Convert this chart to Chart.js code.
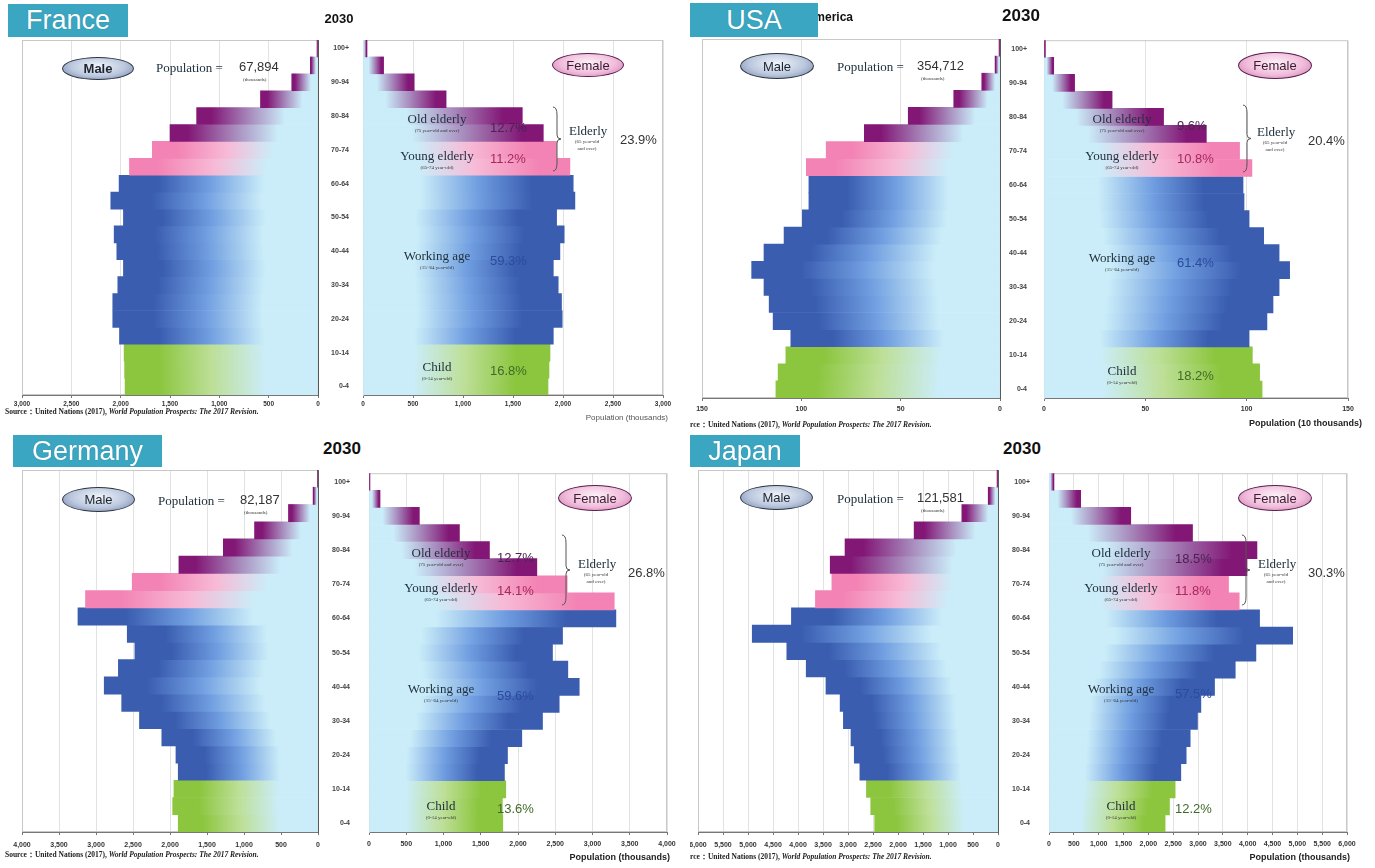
<!DOCTYPE html>
<html>
<head>
<meta charset="utf-8">
<script src="https://cdn.jsdelivr.net/npm/chart.js@4.4.0/dist/chart.umd.min.js"></script>
<style>
body { margin: 0; background: #fff; width: 1375px; height: 868px; position: relative; overflow: hidden; font-family: "Liberation Sans", Arial, sans-serif; }
.cv { position: absolute; }
.tx { position: absolute; white-space: nowrap; line-height: 1; }
.serif { font-family: "Liberation Serif", "Times New Roman", serif; font-size: 13px; color: #20323f; }
.tiny { font-family: "Liberation Serif", serif; font-size: 5px; color: #333; }
.pct { font-size: 13px; }
.title { position: absolute; background: #3aa6c1; color: #fff; font-size: 27px; display: flex; align-items: center; justify-content: center; text-shadow: 0 0 1px #2a7f95; z-index: 5; }
.pill { position: absolute; border-radius: 50%; display: flex; align-items: center; justify-content: center; font-size: 13px; }
.male { border: 1.5px solid #2d3440; background: radial-gradient(ellipse at 50% 40%, #f3f6fb 0%, #bac7dd 55%, #6b7ca2 100%); color: #1d2430; }
.female { border: 1.5px solid #5a1d4e; background: radial-gradient(ellipse at 50% 40%, #fdf1f8 0%, #f1bddb 55%, #c877ad 100%); color: #3a1b33; }
.src { font-family: "Liberation Serif", serif; font-size: 7.5px; font-weight: bold; color: #222; }
.clip { position: absolute; overflow: hidden; height: 12px; width: 300px; }
</style>
</head>
<body>
<svg id="braces" width="1375" height="868" style="position:absolute;left:0;top:0;z-index:4;pointer-events:none"></svg>
<script>
// age groups, youngest first
const ageGroups = ['0-4', '5-9', '10-14', '15-19', '20-24', '25-29', '30-34', '35-39', '40-44', '45-49',
  '50-54', '55-59', '60-64', '65-69', '70-74', '75-79', '80-84', '85-89', '90-94', '95-99', '100+'];

// France, thousands
const franceMale = [1955, 1960, 1965, 2012, 2080, 2080, 2029, 1972, 2039, 2066, 1972, 2100, 2016, 1911, 1679, 1500, 1230, 583, 266, 78, 10];
const franceFemale = [1850, 1860, 1870, 1903, 1992, 1985, 1952, 1903, 1969, 2012, 1936, 2119, 2102, 2069, 1936, 1803, 1593, 831, 512, 206, 40];
// USA, 10 thousands
const usaMale = [112.8, 111.7, 107.8, 105.3, 114.2, 116.2, 118.8, 125.0, 118.8, 108.7, 99.5, 96.2, 96.2, 97.5, 87.5, 68.3, 46.2, 23.3, 9.2, 2.5, 0.5];
const usaFemale = [107.6, 106.4, 102.8, 101.2, 110.0, 113.0, 116.0, 121.2, 116.0, 108.4, 101.2, 98.7, 98.2, 102.6, 96.5, 80.1, 59.0, 33.6, 15.1, 4.8, 0.7];
// Germany, thousands
const germanyMale = [1889, 1964, 1947, 1889, 1920, 2111, 2413, 2653, 2889, 2698, 2475, 2578, 3244, 3142, 2511, 1880, 1280, 858, 400, 67, 5];
const germanyFemale = [1796, 1790, 1836, 1818, 1859, 2051, 2329, 2553, 2822, 2669, 2463, 2598, 3314, 3292, 2660, 2253, 1617, 1214, 676, 148, 13];
// Japan, thousands
const japanMale = [2467, 2546, 2632, 2763, 2875, 2941, 3093, 3158, 3441, 3836, 4224, 4915, 4132, 3652, 3323, 3356, 3060, 1678, 724, 197, 20];
const japanFemale = [2338, 2426, 2540, 2654, 2762, 2843, 2990, 3058, 3333, 3750, 4166, 4906, 4240, 3830, 3615, 3985, 4187, 2890, 1646, 638, 100];

// shares: old elderly, young elderly, working age, child, elderly
const francePct = ['12.7%', '11.2%', '59.3%', '16.8%', '23.9%'];
const usaPct = ['9.6%', '10.8%', '61.4%', '18.2%', '20.4%'];
const germanyPct = ['12.7%', '14.1%', '59.6%', '13.6%', '26.8%'];
const japanPct = ['18.5%', '11.8%', '57.5%', '12.2%', '30.3%'];
const totals = ['67,894', '354,712', '82,187', '121,581'];
const countries = ['France', 'USA', 'Germany', 'Japan'];

function groupOf(i) { return i < 3 ? 'child' : i < 13 ? 'work' : i < 15 ? 'young' : 'old'; }
const palette = {
  child: ['#8cc63f', '#bddf97', 0.82],
  work: ['#3a5db0', '#6f9de0', 0.8],
  young: ['#f383b4', '#f7bad6', 0.85],
  old: ['#821776', '#a98fbf', 0.88]
};
const pale = '#cbedf9';

function barFill(c) {
  const chart = c.chart;
  const cols = palette[groupOf(c.dataIndex)];
  if (!chart.chartArea || c.raw == null) return cols[0];
  const sx = chart.scales.x;
  const p0 = sx.getPixelForValue(0), p1 = sx.getPixelForValue(c.raw);
  if (Math.abs(p1 - p0) < 1.5) return cols[0];
  const g = chart.ctx.createLinearGradient(p0, 0, p1, 0);
  g.addColorStop(0, pale);
  g.addColorStop(0.27, pale);
  g.addColorStop(0.55, cols[1]);
  g.addColorStop(cols[2], cols[0]);
  g.addColorStop(1, cols[0]);
  return g;
}

const frame = {
  id: 'frame',
  beforeDatasetsDraw(chart) {
    const { ctx, chartArea: a } = chart;
    ctx.save();
    ctx.strokeStyle = '#c8c8c8';
    ctx.lineWidth = 1;
    ctx.strokeRect(a.left + 0.5, a.top + 0.5, a.width - 1, a.height - 1);
    ctx.restore();
  }
};

function pyramid(p) {
  const male = p.side === 'male';
  const yW = male ? 0 : 40;
  const padL = male ? 16 : 2, padR = male ? 4 : 18, padT = 12, axisH = 26;
  const w = (p.right - p.left) + yW + padL + padR;
  const h = (p.bottom - p.top) + padT + axisH;
  const cv = document.createElement('canvas');
  cv.className = 'cv';
  cv.width = w; cv.height = h;
  cv.style.width = w + 'px'; cv.style.height = h + 'px';
  cv.style.left = (p.left - yW - padL) + 'px';
  cv.style.top = (p.top - padT) + 'px';
  if (p.clipLeft) cv.style.clipPath = 'inset(0 0 0 ' + p.clipLeft + 'px)';
  document.body.appendChild(cv);
  const tickFont = { family: 'Liberation Sans', size: p.tickSize, weight: 'bold' };
  new Chart(cv.getContext('2d'), {
    type: 'bar',
    data: {
      labels: ageGroups,
      datasets: [{ data: p.values, backgroundColor: barFill, borderWidth: 0, barPercentage: 1, categoryPercentage: 1 }]
    },
    options: {
      indexAxis: 'y',
      responsive: false,
      animation: false,
      layout: { padding: { left: padL, right: padR, top: padT, bottom: 0 } },
      plugins: { legend: { display: false }, tooltip: { enabled: false } },
      scales: {
        x: {
          reverse: male,
          min: 0,
          max: p.max,
          ticks: {
            stepSize: p.step, autoSkip: false, maxRotation: 0, font: tickFont, color: '#333', padding: p.tickGap,
            callback: v => v.toLocaleString('en-US')
          },
          grid: { color: '#e2e2e2', tickLength: 3, tickColor: '#777' },
          border: { color: '#777' },
          afterFit: s => { s.height = axisH; }
        },
        y: {
          position: male ? 'right' : 'left',
          reverse: true,
          grid: { display: false },
          border: { color: male ? '#555' : '#c8c8c8' },
          ticks: {
            display: !male, font: { family: 'Liberation Sans', size: 7, weight: 'bold' }, color: '#444', padding: p.labelGap,
            callback: (v, i) => (i % 2 === 0 ? ageGroups[i] : '')
          },
          afterFit: s => { s.width = yW; }
        }
      }
    },
    plugins: [frame]
  });
}

// France
pyramid({ side: 'male', values: franceMale, left: 22, right: 318, top: 40, bottom: 395, max: 3000, step: 500, tickSize: 6.5, tickGap: 2 });
pyramid({ side: 'female', values: franceFemale, left: 363, right: 663, top: 40, bottom: 395, max: 3000, step: 500, tickSize: 6.5, tickGap: 2, labelGap: 6 });
// USA
pyramid({ side: 'male', values: usaMale, left: 702, right: 1002, top: 39, bottom: 398, max: 150, step: 50, tickSize: 7, tickGap: 4 });
pyramid({ side: 'female', values: usaFemale, left: 1044, right: 1348, top: 39, bottom: 398, max: 150, step: 50, tickSize: 7, tickGap: 4, labelGap: 9 });
// Germany
pyramid({ side: 'male', values: germanyMale, left: 22, right: 322, top: 470, bottom: 832, max: 4000, step: 500, tickSize: 7, tickGap: 6 });
pyramid({ side: 'female', values: germanyFemale, left: 369, right: 667, top: 470, bottom: 832, max: 4000, step: 500, tickSize: 7, tickGap: 5, labelGap: 11 });
// Japan
pyramid({ side: 'male', values: japanMale, left: 698, right: 1002, top: 470, bottom: 832, max: 6000, step: 500, tickSize: 7, tickGap: 6, clipLeft: 8 });
pyramid({ side: 'female', values: japanFemale, left: 1049, right: 1347, top: 470, bottom: 832, max: 6000, step: 500, tickSize: 7, tickGap: 5, labelGap: 11 });

// ---- text ----
function put(x, y, html, cls, anchor, css) {
  const d = document.createElement('div');
  d.className = 'tx ' + (cls || '');
  d.innerHTML = html;
  if (css) d.style.cssText = css;
  d.style.left = x + 'px';
  d.style.top = y + 'px';
  const tx = anchor === 'c' ? '-50%' : anchor === 'r' ? '-100%' : '0';
  d.style.transform = 'translate(' + tx + ',-50%)';
  document.body.appendChild(d);
  return d;
}
function box(cls, x, y, w, h, text, extra) {
  const d = document.createElement('div');
  d.className = cls;
  d.style.left = x + 'px'; d.style.top = y + 'px';
  d.style.width = w + 'px'; d.style.height = h + 'px';
  if (extra) Object.assign(d.style, extra);
  d.textContent = text;
  document.body.appendChild(d);
  return d;
}

const pctColors = ['#4a2450', '#a8285f', '#2c4b9c', '#3f6b28', '#333'];
const srcHtml = 'Source：United Nations (2017), <i>World Population Prospects: The 2017 Revision.</i>';

function quadrant(q) {
  box('title', q.title[0], q.title[1], q.title[2], q.title[3], countries[q.i]);
  put(q.year[0], q.year[1], '2030', '', 'c', 'font-weight:bold;font-size:' + q.year[2] + 'px;color:#111');
  box('pill male', q.malePill[0], q.malePill[1], q.malePill[2], q.malePill[3], 'Male', q.i === 0 ? { fontWeight: 'bold' } : null);
  box('pill female', q.femPill[0], q.femPill[1], q.femPill[2], q.femPill[3], 'Female');
  put(q.pop[0], q.pop[1], 'Population =', 'serif');
  put(q.pop[2], q.pop[1] - 1, totals[q.i], 'pct', '', 'color:#333');
  put(q.pop[2] + 4, q.pop[1] + 12, '(thousands)', 'tiny');
  // group labels on female side
  const L = q.lab;   // [x for serif labels center, x for pct]
  const rows = [
    ['Old elderly', '(75 year-old and over)', q.rows[0]],
    ['Young elderly', '(65-74 year-old)', q.rows[1]],
    ['Working age', '(15~64 year-old)', q.rows[2]],
    ['Child', '(0-14 year-old)', q.rows[3]]
  ];
  rows.forEach((r, k) => {
    put(L[0], r[2], r[0], 'serif', 'c');
    put(L[0], r[2] + 12, r[1], 'tiny', 'c');
    put(L[1], r[2] + q.pctShift[k], q.pct[k], 'pct', '', 'color:' + pctColors[k]);
  });
  // elderly brace
  const b = q.brace; // x, y0, y1
  const ym = (b[1] + b[2]) / 2, w = 4;
  const d = `M${b[0]} ${b[1]} Q${b[0] + w} ${b[1]} ${b[0] + w} ${b[1] + 8} L${b[0] + w} ${ym - 4} Q${b[0] + w} ${ym} ${b[0] + 2 * w} ${ym} ` +
    `Q${b[0] + w} ${ym} ${b[0] + w} ${ym + 4} L${b[0] + w} ${b[2] - 8} Q${b[0] + w} ${b[2]} ${b[0]} ${b[2]}`;
  document.getElementById('braces').insertAdjacentHTML('beforeend',
    `<path d="${d}" fill="none" stroke="#555" stroke-width="1"/>`);
  put(q.eld[0], q.eld[1], 'Elderly', 'serif');
  put(q.eld[0] + 18, q.eld[1] + 11, '(65 year-old', 'tiny', 'c');
  put(q.eld[0] + 18, q.eld[1] + 18, 'and over)', 'tiny', 'c');
  put(q.eld[2], q.eld[1] + 9, q.pct[4], 'pct', '', 'color:#333');
  // axis title and source
  put(q.axis[0], q.axis[1], q.axis[2], '', 'r', q.axis[3]);
  if (q.src[2]) {
    const c = document.createElement('div');
    c.className = 'clip';
    c.style.left = q.src[0] + 'px';
    c.style.top = (q.src[1] - 6) + 'px';
    c.innerHTML = '<div class="tx src" style="left:-12px;top:2px">' + srcHtml + '</div>';
    document.body.appendChild(c);
  } else {
    put(q.src[0], q.src[1], srcHtml, 'src');
  }
}

// USA: name partly hidden under the title box
put(853, 17, 'United States of America', '', 'r', 'font-weight:bold;font-size:12px;color:#111');

quadrant({ i: 0, title: [8, 4, 120, 33], year: [339, 18, 13],
  malePill: [62, 57, 70, 21], femPill: [552, 53, 70, 22], pop: [156, 67, 239],
  lab: [437, 490], rows: [118, 155, 255, 366], pctShift: [9, 3, 5, 4], pct: francePct,
  brace: [553, 107, 171], eld: [569, 130, 620],
  axis: [668, 418, 'Population (thousands)', 'font-size:8px;color:#555'], src: [5, 412] });

quadrant({ i: 1, title: [690, 3, 128, 34], year: [1021, 15, 17],
  malePill: [740, 53, 72, 24], femPill: [1238, 52, 72, 25], pop: [837, 66, 917],
  lab: [1122, 1177], rows: [118, 155, 257, 370], pctShift: [7, 3, 5, 5], pct: usaPct,
  brace: [1243, 105, 172], eld: [1257, 131, 1308],
  axis: [1362, 423, 'Population (10 thousands)', 'font-size:9px;font-weight:bold;color:#222'], src: [690, 425, true] });

quadrant({ i: 2, title: [13, 435, 149, 32], year: [342, 448, 17],
  malePill: [62, 487, 71, 23], femPill: [558, 485, 72, 24], pop: [158, 500, 240],
  lab: [441, 497], rows: [552, 587, 688, 805], pctShift: [5, 3, 7, 3], pct: germanyPct,
  brace: [562, 535, 605], eld: [578, 563, 628],
  axis: [670, 857, 'Population (thousands)', 'font-size:9px;font-weight:bold;color:#222'], src: [5, 855] });

quadrant({ i: 3, title: [690, 435, 110, 32], year: [1022, 448, 17],
  malePill: [740, 485, 71, 23], femPill: [1238, 485, 72, 24], pop: [837, 498, 917],
  lab: [1121, 1175], rows: [552, 587, 688, 805], pctShift: [6, 3, 5, 3], pct: japanPct,
  brace: [1242, 535, 605], eld: [1258, 563, 1308],
  axis: [1350, 857, 'Population (thousands)', 'font-size:9px;font-weight:bold;color:#222'], src: [690, 857, true] });
</script>
</body>
</html>
